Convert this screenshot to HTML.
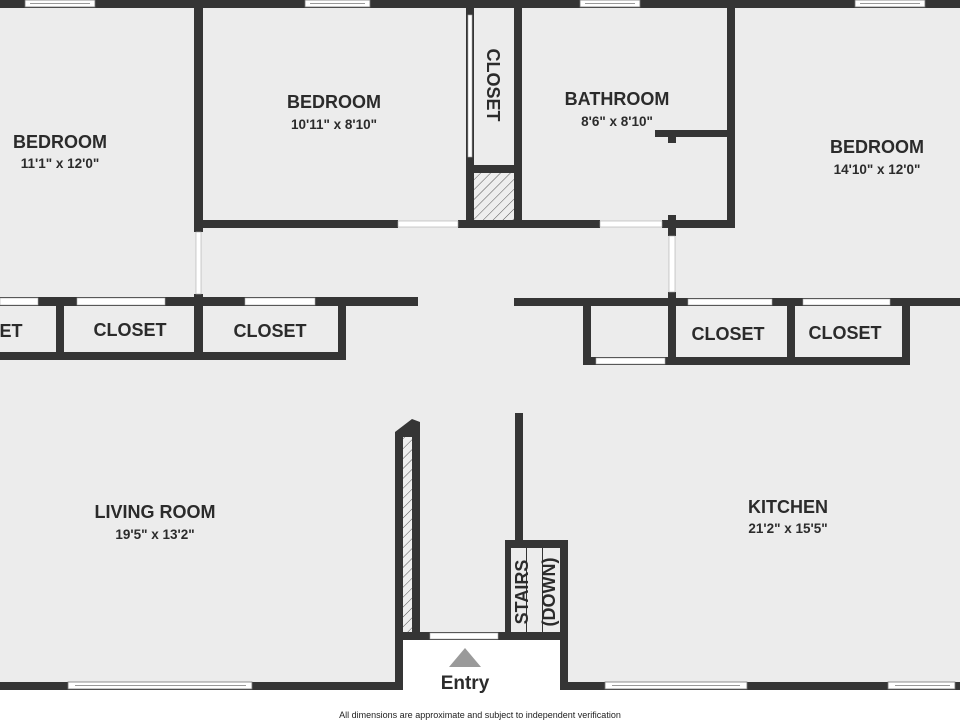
<!DOCTYPE html>
<html><head><meta charset="utf-8"><style>
html,body{margin:0;padding:0;background:#fff}
svg{display:block}
text{font-family:"Liberation Sans",sans-serif;font-weight:bold;fill:#2b2b2b;text-anchor:middle}
.n{font-size:18px}.d{font-size:13.5px}
</style></head><body>
<svg width="960" height="720" viewBox="0 0 960 720" xmlns="http://www.w3.org/2000/svg">
<defs>
<pattern id="h" width="7" height="7" patternUnits="userSpaceOnUse" patternTransform="rotate(45)">
<rect width="7" height="7" fill="#eee"/><line x1="0" y1="0" x2="0" y2="7" stroke="#555" stroke-width="1"/>
</pattern>
</defs>
<rect x="0" y="0" width="960" height="690" fill="#ececec"/>
<rect x="403" y="640" width="157" height="50" fill="#fff"/>
<rect x="0" y="690" width="960" height="30" fill="#fff"/>
<g fill="#353535">
<!-- top wall -->
<rect x="0" y="0" width="960" height="8"/>
<!-- left bedroom right wall -->
<rect x="194" y="0" width="9" height="232"/>
<rect x="194" y="294" width="9" height="66"/>
<!-- bedroom2 bottom -->
<rect x="203" y="220" width="195" height="8"/>
<rect x="458" y="220" width="142" height="8"/>
<!-- closet -->
<rect x="466" y="0" width="8" height="228"/>
<rect x="466" y="165" width="54" height="8"/>
<rect x="514" y="0" width="8" height="228"/>
<!-- bathroom -->
<rect x="662" y="220" width="73" height="8"/>
<rect x="727" y="0" width="8" height="228"/>
<rect x="655" y="130" width="80" height="7"/>
<rect x="668" y="130" width="8" height="13"/>
<rect x="668" y="215" width="8" height="21"/>
<rect x="668" y="292" width="8" height="73"/>
<!-- left closets -->
<rect x="0" y="297" width="418" height="9"/>
<rect x="0" y="352" width="346" height="8"/>
<rect x="56" y="297" width="8" height="63"/>
<rect x="338" y="297" width="8" height="63"/>
<!-- right closets -->
<rect x="514" y="298" width="446" height="8"/>
<rect x="583" y="298" width="8" height="67"/>
<rect x="787" y="298" width="8" height="67"/>
<rect x="902" y="298" width="8" height="67"/>
<rect x="583" y="357" width="327" height="8"/>
<!-- living left partition -->
<polygon points="395,432 412,419 420,422 420,640 403,640 403,690 395,690"/>
<rect x="403" y="632" width="165" height="8"/>
<rect x="515" y="413" width="8" height="134"/>
<rect x="505" y="540" width="63" height="8"/>
<rect x="505" y="540" width="6" height="100"/>
<rect x="560" y="540" width="8" height="150"/>
<!-- bottom walls -->
<rect x="0" y="682" width="403" height="8"/>
<rect x="560" y="682" width="400" height="8"/>
</g>
<rect x="403" y="437" width="9" height="195" fill="url(#h)"/>
<rect x="474" y="173" width="40" height="47" fill="url(#h)"/>
<rect x="511" y="548" width="49" height="84" fill="#ececec"/>
<line x1="526.5" y1="548" x2="526.5" y2="632" stroke="#333" stroke-width="1"/>
<line x1="542.5" y1="548" x2="542.5" y2="632" stroke="#333" stroke-width="1"/>
<!-- doors (white) -->
<g fill="#fff" stroke="#aaa" stroke-width="0.6">
<rect x="398" y="221" width="60" height="6"/>
<rect x="600" y="221" width="62" height="6"/>
<rect x="196" y="232" width="5" height="62"/>
<rect x="669" y="236" width="6" height="56"/>
<rect x="468" y="15" width="4" height="142"/>
<rect x="0" y="298" width="38" height="7"/>
<rect x="77" y="298" width="88" height="7"/>
<rect x="245" y="298" width="70" height="7"/>
<rect x="688" y="299" width="84" height="6"/>
<rect x="803" y="299" width="87" height="6"/>
<rect x="596" y="358" width="69" height="6"/>
<rect x="430" y="633" width="68" height="6"/>
</g>
<!-- windows -->
<g fill="#fff" stroke="#777" stroke-width="0.8">
<rect x="25" y="0" width="70" height="7"/><line x1="30" y1="3.5" x2="90" y2="3.5"/>
<rect x="305" y="0" width="65" height="7"/><line x1="310" y1="3.5" x2="365" y2="3.5"/>
<rect x="580" y="0" width="60" height="7"/><line x1="585" y1="3.5" x2="635" y2="3.5"/>
<rect x="855" y="0" width="70" height="7"/><line x1="860" y1="3.5" x2="920" y2="3.5"/>
<rect x="68" y="682" width="184" height="7"/><line x1="75" y1="685.5" x2="246" y2="685.5"/>
<rect x="605" y="682" width="142" height="7"/><line x1="612" y1="685.5" x2="740" y2="685.5"/>
<rect x="888" y="682" width="67" height="7"/><line x1="895" y1="685.5" x2="950" y2="685.5"/>
</g>
<polygon points="465,648 481,667 449,667" fill="#9a9a9a"/>
<!-- labels -->
<text class="n" x="60" y="148">BEDROOM</text><text class="d" x="60" y="168">11'1" x 12'0"</text>
<text class="n" x="334" y="108">BEDROOM</text><text class="d" x="334" y="129">10'11" x 8'10"</text>
<text class="n" x="617" y="105">BATHROOM</text><text class="d" x="617" y="126">8'6" x 8'10"</text>
<text class="n" x="877" y="153">BEDROOM</text><text class="d" x="877" y="174">14'10" x 12'0"</text>
<text class="n" transform="translate(487,85) rotate(90)">CLOSET</text>
<text class="n" x="5" y="337">SET</text>
<text class="n" x="130" y="336">CLOSET</text>
<text class="n" x="270" y="337">CLOSET</text>
<text class="n" x="728" y="340">CLOSET</text>
<text class="n" x="845" y="339">CLOSET</text>
<text class="n" x="155" y="518">LIVING ROOM</text><text class="d" x="155" y="539">19'5" x 13'2"</text>
<text class="n" x="788" y="513">KITCHEN</text><text class="d" x="788" y="533">21'2" x 15'5"</text>
<text class="n" transform="translate(528,592) rotate(-90)">STAIRS</text>
<text class="n" transform="translate(555,592) rotate(-90)">(DOWN)</text>
<text class="n" x="465" y="689" style="font-size:19px">Entry</text>
<text x="480" y="718" style="font-size:9px;font-weight:normal;fill:#222">All dimensions are approximate and subject to independent verification</text>
</svg>
</body></html>
